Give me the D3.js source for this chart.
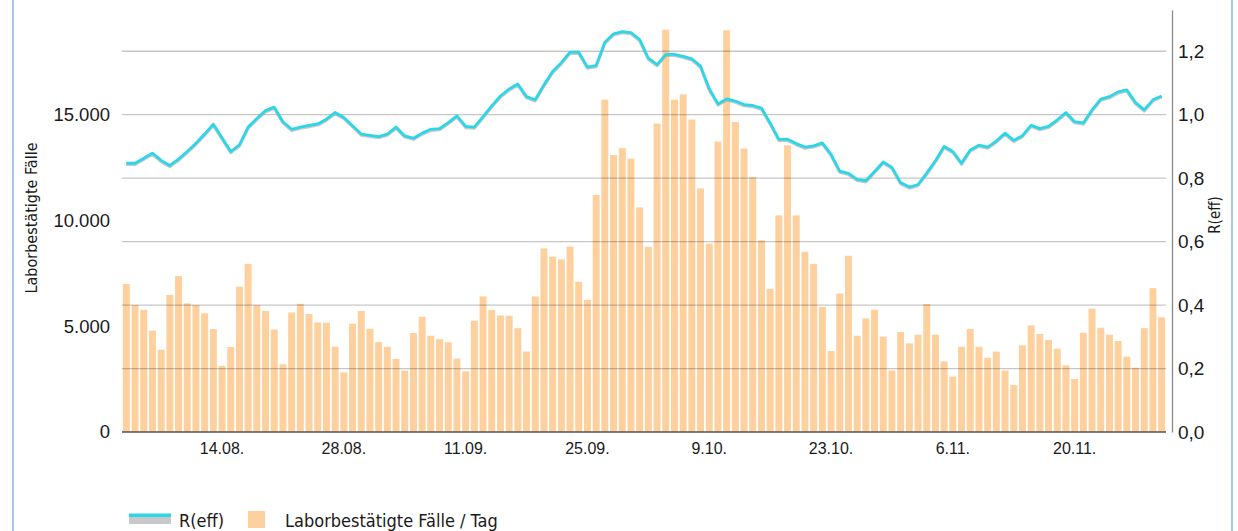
<!DOCTYPE html>
<html>
<head>
<meta charset="utf-8">
<script src="https://cdn.jsdelivr.net/npm/d3@7"></script>
<style>
  html, body { margin: 0; padding: 0; background: #fff; }
  svg { display: block; font-family: "Liberation Sans Narrow", "DejaVu Sans Condensed", sans-serif; }
  text { fill: #1a1a1a; }
</style>
</head>
<body>
<div id="chart"></div>
<script>
// days shown: 3.08. - 30.11.
const firstDay = new Date(2020, 7, 3);
const dayCount = 120;

// Laborbestätigte Fälle / Tag
const cases = [
  7000, 6000, 5770, 4790, 3890, 6480, 7370, 6080, 6000, 5610,
  4870, 3130, 4020, 6870, 7950, 6000, 5720, 4840, 3200, 5650,
  6060, 5580, 5180, 5170, 4030, 2820, 5120, 5720, 4880, 4250,
  4030, 3450, 2900, 4680, 5450, 4550, 4390, 4240, 3470, 2870,
  5260, 6410, 5770, 5510, 5500, 4910, 3800, 6410, 8680, 8290,
  8160, 8770, 7100, 6250, 11210, 15710, 13090, 13420, 12920, 10620,
  8750, 14580, 19020, 15710, 15960, 14770, 11520, 8910, 13730, 18990,
  14660, 13400, 12050, 9060, 6770, 10240, 13550, 10240, 8520, 7950,
  5910, 3830, 6540, 8330, 4550, 5370, 5780, 4510, 2910, 4730,
  4190, 4600, 6050, 4600, 3340, 2620, 4030, 4870, 4030, 3510,
  3800, 2910, 2220, 4100, 5040, 4630, 4350, 3940, 3150, 2500,
  4690, 5830, 4930, 4600, 4300, 3560, 3040, 4910, 6800, 5420
];

// R(eff)
const rEff = [
  0.847, 0.847, 0.863, 0.879, 0.856, 0.840, 0.860, 0.884, 0.910, 0.939,
  0.970, 0.927, 0.884, 0.905, 0.961, 0.988, 1.013, 1.024, 0.978, 0.954,
  0.961, 0.966, 0.971, 0.986, 1.007, 0.991, 0.965, 0.939, 0.935, 0.931,
  0.939, 0.961, 0.933, 0.926, 0.942, 0.954, 0.956, 0.975, 0.996, 0.963,
  0.961, 0.994, 1.028, 1.059, 1.081, 1.097, 1.057, 1.047, 1.094, 1.136,
  1.164, 1.197, 1.197, 1.150, 1.155, 1.228, 1.255, 1.262, 1.259, 1.237,
  1.178, 1.158, 1.190, 1.190, 1.184, 1.176, 1.153, 1.082, 1.034, 1.050,
  1.043, 1.032, 1.029, 1.021, 0.974, 0.922, 0.923, 0.909, 0.898, 0.902,
  0.911, 0.875, 0.822, 0.815, 0.796, 0.792, 0.821, 0.851, 0.834, 0.786,
  0.772, 0.780, 0.816, 0.855, 0.900, 0.884, 0.847, 0.889, 0.904, 0.898,
  0.917, 0.942, 0.919, 0.934, 0.967, 0.956, 0.963, 0.984, 1.007, 0.978,
  0.974, 1.015, 1.049, 1.057, 1.072, 1.078, 1.038, 1.015, 1.047, 1.059
];

const xTickLabels = ["14.08.", "28.08.", "11.09.", "25.09.", "9.10.", "23.10.", "6.11.", "20.11."];
const casesTicks = [0, 5000, 10000, 15000];
const rTicks = [0, 0.2, 0.4, 0.6, 0.8, 1.0, 1.2];

const width = 1238, height = 531;
const
  plotLeft = 122,
  plotRight = 1166,
  plotTop = 10,
  plotBottom = 432;

const de = d3.formatLocale({ decimal: ",", thousands: ".", grouping: [3], currency: ["", "€"] });
const fmtDay = d3.timeFormat("%-d.%m.");

const days = d3.range(dayCount).map(i => fmtDay(d3.timeDay.offset(firstDay, i)));
const data = days.map((d, i) => ({ day: d, cases: cases[i], r: rEff[i] }));

const x = d3.scaleBand().domain(days).range([plotLeft, plotRight]).paddingInner(0.2).paddingOuter(0.1);
const yCases = d3.scaleLinear().domain([0, 19950]).range([plotBottom, plotTop]);
const yR = d3.scaleLinear().domain([0, 1.33]).range([plotBottom, plotTop]);

const svg = d3.select("#chart").append("svg")
  .attr("width", width)
  .attr("height", height);

// frame
svg.append("rect")
  .attr("x", 13).attr("y", -5)
  .attr("width", 1219).attr("height", 545)
  .attr("fill", "none")
  .attr("stroke", "#a9c5ea")
  .attr("stroke-width", 2);

// bars
svg.append("g")
  .selectAll("rect")
  .data(data)
  .join("rect")
    .attr("x", d => x(d.day))
    .attr("y", d => yCases(d.cases))
    .attr("width", x.bandwidth())
    .attr("height", d => plotBottom - yCases(d.cases))
    .attr("fill", "#fdd09e");

// grid (on top of bars)
svg.append("g")
  .selectAll("line")
  .data(rTicks.filter(t => t > 0))
  .join("line")
    .attr("x1", plotLeft).attr("x2", plotRight)
    .attr("y1", d => yR(d)).attr("y2", d => yR(d))
    .attr("stroke", "rgba(0,0,0,0.22)")
    .attr("stroke-width", 1.3);

svg.append("line")
  .attr("x1", plotLeft).attr("x2", plotRight)
  .attr("y1", plotBottom).attr("y2", plotBottom)
  .attr("stroke", "#555")
  .attr("stroke-width", 1.5);

// R(eff) line with light shadow
const line = d3.line()
  .x(d => x(d.day) + x.bandwidth() / 2)
  .y(d => yR(d.r));

svg.append("path")
  .datum(data)
  .attr("d", line)
  .attr("transform", "translate(0,1.2)")
  .attr("fill", "none")
  .attr("stroke", "#9a9a9a")
  .attr("stroke-opacity", 0.55)
  .attr("stroke-width", 3)
  .attr("stroke-linejoin", "round");

svg.append("path")
  .datum(data)
  .attr("d", line)
  .attr("fill", "none")
  .attr("stroke", "#2bd6e8")
  .attr("stroke-width", 2.8)
  .attr("stroke-linejoin", "round");

// left axis
const axL = svg.append("g")
  .attr("transform", `translate(${plotLeft},0)`)
  .call(d3.axisLeft(yCases).tickValues(casesTicks).tickSize(0).tickPadding(12).tickFormat(de.format(",")));
axL.select(".domain").remove();
axL.selectAll("text").attr("font-size", 18.5).attr("font-family", null).attr("fill", "#1a1a1a");

// right axis
const axR = svg.append("g")
  .attr("transform", "translate(1172,0)")
  .call(d3.axisRight(yR).tickValues(rTicks).tickSize(0).tickSizeOuter(0).tickPadding(6).tickFormat(de.format(",.1f")));
axR.select(".domain").attr("stroke", "#8a8a8a").attr("stroke-width", 1.3);
axR.selectAll("text").attr("font-size", 19).attr("font-family", null).attr("fill", "#1a1a1a");

// bottom axis
const axB = svg.append("g")
  .attr("transform", `translate(0,${plotBottom})`)
  .call(d3.axisBottom(x).tickValues(xTickLabels).tickSize(0).tickPadding(11));
axB.select(".domain").remove();
axB.selectAll("text").attr("font-size", 16).attr("font-family", null).attr("fill", "#1a1a1a");

// axis titles
svg.append("text")
  .attr("transform", "translate(37,218) rotate(-90)")
  .attr("text-anchor", "middle")
  .attr("font-size", 16)
  .text("Laborbestätigte Fälle");

svg.append("text")
  .attr("transform", "translate(1220,215) rotate(-90)")
  .attr("text-anchor", "middle")
  .attr("font-size", 15)
  .text("R(eff)");

// legend
const lg = svg.append("g");
lg.append("rect").attr("x", 129).attr("y", 516).attr("width", 42).attr("height", 8).attr("fill", "#c8c8c8");
lg.append("rect").attr("x", 129).attr("y", 513.5).attr("width", 42).attr("height", 3.5).attr("fill", "#2bd6e8");
lg.append("text").attr("x", 179).attr("y", 527).attr("font-size", 18).text("R(eff)");
lg.append("rect").attr("x", 248).attr("y", 511).attr("width", 17).attr("height", 17).attr("fill", "#fdd09e");
lg.append("text").attr("x", 285).attr("y", 527).attr("font-size", 18).text("Laborbestätigte Fälle / Tag");
</script>
</body>
</html>
